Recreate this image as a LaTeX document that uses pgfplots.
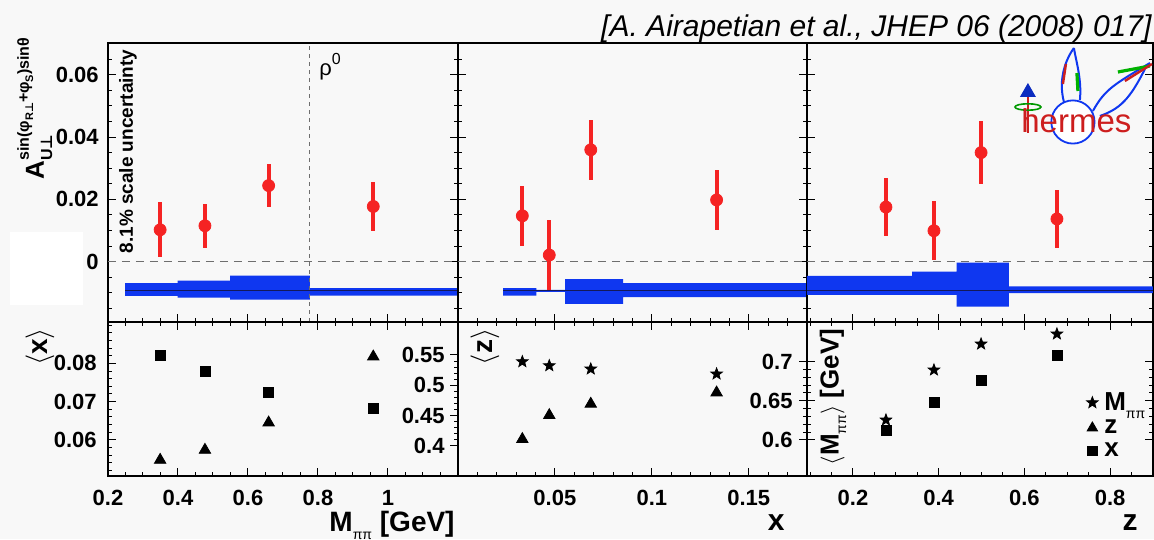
\documentclass[border=0pt]{standalone}
\usepackage{fontspec}
\setmainfont{Liberation Sans}
\newfontfamily\dejavu{DejaVu Sans}
\usepackage{pgfplots}
\pgfplotsset{compat=1.18}
\definecolor{bg}{RGB}{248,248,248}
\definecolor{pred}{RGB}{245,35,35}
\definecolor{pblue}{RGB}{15,55,240}
\definecolor{cline}{RGB}{20,25,90}
\definecolor{zgray}{RGB}{110,110,110}
\definecolor{hred}{RGB}{205,30,30}

\pgfdeclareplotmark{fstar}{%
 \pgfpathmoveto{\pgfpointpolar{90}{\pgfplotmarksize}}%
 \pgfpathlineto{\pgfpointpolar{126}{0.42\pgfplotmarksize}}%
 \pgfpathlineto{\pgfpointpolar{162}{\pgfplotmarksize}}%
 \pgfpathlineto{\pgfpointpolar{198}{0.42\pgfplotmarksize}}%
 \pgfpathlineto{\pgfpointpolar{234}{\pgfplotmarksize}}%
 \pgfpathlineto{\pgfpointpolar{270}{0.42\pgfplotmarksize}}%
 \pgfpathlineto{\pgfpointpolar{306}{\pgfplotmarksize}}%
 \pgfpathlineto{\pgfpointpolar{342}{0.42\pgfplotmarksize}}%
 \pgfpathlineto{\pgfpointpolar{18}{\pgfplotmarksize}}%
 \pgfpathlineto{\pgfpointpolar{54}{0.42\pgfplotmarksize}}%
 \pgfpathclose
 \pgfusepathqfillstroke}

\pgfplotsset{
 base/.style={scale only axis, anchor=south west,
   scaled x ticks=false, scaled y ticks=false,
   axis line style={line width=1.1pt},
   tick style={black, line width=0.5pt},
   major tick length=4pt, minor tick length=2pt, tick align=inside,
   ticklabel style={font=\bfseries\fontsize{11}{13}\selectfont}},
 toppanel/.style={base, height=139.5pt, ymin=-0.0194, ymax=0.0702,
   ytick={0,0.02,0.04,0.06}, minor ytick={-0.015,-0.01,...,0.07},
   ytick pos=both, xtick pos=left, xticklabels={}, yticklabels={}},
 botpanel/.style={base, height=77pt, xtick pos=both,
   xticklabel style={anchor=north, inner sep=0pt, yshift=-7pt}},
 pts/.style={only marks, mark=*, mark size=3pt, color=pred,
   error bars/.cd, y dir=both, y explicit, error mark=none,
   error bar style={line width=2pt, color=pred}},
 zline/.style={zgray, dash pattern=on 4pt off 3pt, line width=0.6pt},
 cl/.style={cline, line width=0.6pt},
}

\begin{document}
\begin{tikzpicture}
\begin{scope}[x=0.5pt,y=0.5pt]
\fill[bg] (0,0) rectangle (1154,539);
\useasboundingbox (0,0) rectangle (1154,539);
\fill[white] (10,234) rectangle (83,307);
\end{scope}

% ---------- top left: vs M_pipi
\begin{axis}[toppanel, at={(54pt,108.5pt)}, width=175pt,
  xmin=0.2, xmax=1.2, xtick={0.2,0.4,0.6,0.8,1}, minor xtick={0.2,0.25,...,1.2},
  yticklabels={0,0.02,0.04,0.06},
  yticklabel style={anchor=east, inner sep=0pt, xshift=-4.5pt}]
\addplot[fill=pblue, draw=none] coordinates {
 (0.249,-0.00693)(0.399,-0.00693)(0.399,-0.0061)(0.549,-0.0061)(0.549,-0.0045)
 (0.777,-0.0045)(0.777,-0.00854)(1.2,-0.00854)
 (1.2,-0.0109)(0.777,-0.0109)(0.777,-0.0122)(0.549,-0.0122)(0.549,-0.01156)
 (0.399,-0.01156)(0.399,-0.0110)(0.249,-0.0110)} -- cycle;
\addplot[cl] coordinates {(0.249,-0.0094)(1.2,-0.0094)};
\addplot[zline] coordinates {(0.2,0)(1.2,0)};
\addplot[zgray, dash pattern=on 2pt off 2pt, line width=0.5pt] coordinates {(0.777,-0.0194)(0.777,0.0702)};
\addplot[pts] table[x=x, y=y, y error=e] {
x y e
0.349 0.0102 0.0088
0.477 0.0115 0.0071
0.659 0.0244 0.0070
0.958 0.0177 0.0080
};
\end{axis}

% ---------- top middle: vs x
\begin{axis}[toppanel, at={(229pt,108.5pt)}, width=174.5pt,
  xmin=0, xmax=0.18, xtick={0.05,0.1,0.15}, minor xtick={0,0.01,...,0.18}]
\addplot[fill=pblue, draw=none] coordinates {
 (0.0233,-0.00854)(0.0404,-0.00854)(0.0404,-0.0091)(0.0553,-0.0091)(0.0553,-0.00565)
 (0.0852,-0.00565)(0.0852,-0.00693)(0.18,-0.00693)
 (0.18,-0.01143)(0.0852,-0.01143)(0.0852,-0.01358)(0.0553,-0.01358)(0.0553,-0.0097)
 (0.0404,-0.0097)(0.0404,-0.0109)(0.0233,-0.0109)} -- cycle;
\addplot[cl] coordinates {(0.0233,-0.0094)(0.18,-0.0094)};
\addplot[zline] coordinates {(0,0)(0.18,0)};
\addplot[pts] table[x=x, y=y, y error=e] {
x y e
0.0332 0.0147 0.0097
0.0471 0.0021 0.0111
0.0685 0.0359 0.0097
0.1334 0.0198 0.0095
};
\end{axis}

% ---------- top right: vs z
\begin{axis}[toppanel, at={(403.5pt,108.5pt)}, width=173pt,
  xmin=0.0926, xmax=0.9, xtick={0.2,0.4,0.6,0.8}, minor xtick={0.1,0.15,...,0.9}]
\addplot[fill=pblue, draw=none] coordinates {
 (0.0926,-0.00459)(0.338,-0.00459)(0.338,-0.0032)(0.442,-0.0032)(0.442,-0.0003)
 (0.564,-0.0003)(0.564,-0.0080)(0.9,-0.0080)
 (0.9,-0.01014)(0.564,-0.01014)(0.564,-0.01445)(0.442,-0.01445)(0.442,-0.0107)
 (0.0926,-0.0107)} -- cycle;
\addplot[cl] coordinates {(0.0926,-0.0093)(0.9,-0.0093)};
\addplot[zline] coordinates {(0.0926,0)(0.9,0)};
\addplot[pts] table[x=x, y=y, y error=e] {
x y e
0.277 0.0175 0.0094
0.389 0.0099 0.0095
0.499 0.0350 0.0100
0.676 0.0137 0.0093
};
\end{axis}

% ---------- bottom left: <x> (squares) and <z> (triangles) vs M_pipi
\begin{axis}[botpanel, at={(54pt,31.5pt)}, width=175pt,
  xmin=0.2, xmax=1.2, xtick={0.2,0.4,0.6,0.8,1}, xticklabels={0.2,0.4,0.6,0.8,1},
  minor xtick={0.2,0.25,...,1.2},
  ymin=0.0506, ymax=0.0908, ytick={0.06,0.07,0.08}, yticklabels={0.06,0.07,0.08},
  minor ytick={0.052,0.054,...,0.09}, ytick pos=left,
  yticklabel style={anchor=east, inner sep=0pt, xshift=-5.5pt}]
\addplot[only marks, mark=square*, mark size=2.5pt, black] coordinates {
 (0.349,0.0820)(0.477,0.0780)(0.659,0.0723)(0.958,0.0683)};
\end{axis}
\begin{axis}[base, at={(54pt,31.5pt)}, width=175pt, height=77pt,
  xmin=0.2, xmax=1.2, axis x line=none, axis y line*=right,
  ymin=0.3506, ymax=0.6044, ytick={0.4,0.45,0.5,0.55}, yticklabels={0.4,0.45,0.5,0.55},
  minor y tick num=4,
  yticklabel style={anchor=east, inner sep=0pt, xshift=-6.5pt}]
\addplot[only marks, mark=triangle*, mark size=3.3pt, black] coordinates {
 (0.349,0.3769)(0.477,0.3934)(0.659,0.4384)(0.958,0.5472)};
\end{axis}

% ---------- bottom middle: <M> (stars) and <z> (triangles) vs x
\begin{axis}[botpanel, at={(229pt,31.5pt)}, width=174.5pt,
  xmin=0, xmax=0.18, xtick={0.05,0.1,0.15}, xticklabels={0.05,0.1,0.15},
  minor xtick={0,0.01,...,0.18},
  ymin=0.554, ymax=0.7507, ytick={0.6,0.65,0.7}, yticklabels={0.6,0.65,0.7},
  minor y tick num=4, ytick pos=right, yticklabel pos=right,
  yticklabel style={anchor=east, inner sep=0pt, xshift=-7pt}]
\addplot[only marks, mark=fstar, mark size=3pt, black] coordinates {
 (0.0332,0.7000)(0.0471,0.6949)(0.0685,0.6907)(0.1334,0.6843)};
\addplot[only marks, mark=triangle*, mark size=3.3pt, black] coordinates {
 (0.0332,0.6009)(0.0471,0.6315)(0.0685,0.6460)(0.1334,0.6604)};
\end{axis}

% ---------- bottom right: <M> (stars) and <x> (squares) vs z
\begin{axis}[botpanel, at={(403.5pt,31.5pt)}, width=173pt,
  xmin=0.0926, xmax=0.9, xtick={0.2,0.4,0.6,0.8}, xticklabels={0.2,0.4,0.6,0.8},
  minor xtick={0.1,0.15,...,0.9},
  ymin=0.554, ymax=0.7507, ytick={0.6,0.65,0.7}, yticklabels={},
  minor y tick num=4, ytick pos=both,
  legend style={draw=none, fill=none, at={(0.79,0.58)}, anchor=north west,
    font=\bfseries\fontsize{13}{13}\selectfont, row sep=2pt, column sep=2.5pt,
    nodes={inner sep=0.6pt}},
  legend cell align=left,
  legend image code/.code={\draw[#1] plot coordinates {(0.1cm,0cm)};}]
\addplot[only marks, mark=fstar, mark size=3pt, black, forget plot] coordinates {
 (0.277,0.6255)(0.389,0.6894)(0.499,0.7226)(0.676,0.7354)};
\addplot[only marks, mark=square*, mark size=2.5pt, black, forget plot] coordinates {
 (0.277,0.6128)(0.389,0.6482)(0.499,0.6766)(0.676,0.7086)};
\addlegendimage{only marks, mark=fstar, mark size=3pt, black}
\addlegendentry{M\raisebox{-0.6ex}{\fontsize{7}{7}\selectfont\mdseries ππ}}
\addlegendimage{only marks, mark=triangle*, mark size=3pt, black}
\addlegendentry{z}
\addlegendimage{only marks, mark=square*, mark size=2.3pt, black}
\addlegendentry{x}
\end{axis}

\begin{scope}[x=0.5pt,y=0.5pt]
% ---------- texts
\node[anchor=base east, inner sep=0pt, font=\itshape\fontsize{15}{18}\selectfont] at (1152,502.5)
  {[A. Airapetian et al., JHEP 06 (2008) 017]};
\node[rotate=90, anchor=base west, inner sep=0pt] at (44,359)
  {\bfseries\fontsize{13}{13}\selectfont A\rlap{\raisebox{1.1ex}{\fontsize{8}{8}\selectfont sin(φ\raisebox{-0.5ex}{\fontsize{5.5}{5.5}\selectfont R{\dejavu ⊥}}+φ\raisebox{-0.5ex}{\fontsize{5.5}{5.5}\selectfont S})sinθ}}\raisebox{-0.6ex}{\fontsize{8}{8}\selectfont U{\dejavu ⊥}}};
\node[rotate=90, inner sep=0pt, font=\bfseries\fontsize{9.5}{10}\selectfont] at (128,387.5)
  {8.1\% scale uncertainty};
\node[anchor=base west, inner sep=0pt, font=\fontsize{11}{12}\selectfont] at (319,463)
  {ρ\raisebox{1ex}{\fontsize{8}{8}\selectfont 0}};
\node[anchor=base east, inner sep=0pt, font=\bfseries\fontsize{14}{16}\selectfont] at (455,7.5)
  {M\raisebox{-0.55ex}{\fontsize{7}{7}\selectfont\mdseries ππ} [GeV]};
\node[anchor=base east, inner sep=0pt, font=\bfseries\fontsize{15}{16}\selectfont] at (785,8.5) {x};
\node[anchor=base east, inner sep=0pt, font=\bfseries\fontsize{15}{16}\selectfont] at (1138,8.5) {z};
\node[rotate=90, inner sep=0pt, font=\bfseries\fontsize{14}{16}\selectfont] at (40,192) {$\langle$x$\rangle$};
\node[rotate=90, inner sep=0pt, font=\bfseries\fontsize{14}{16}\selectfont] at (485,192) {$\langle$z$\rangle$};
\node[rotate=90, inner sep=0pt, font=\bfseries\fontsize{13}{15}\selectfont] at (833,142)
  {$\langle$M\raisebox{-0.55ex}{\fontsize{7}{7}\selectfont\mdseries ππ}$\rangle$ [GeV]};

% ---------- hermes logo
\draw[pblue, line width=0.9pt, fill=white] (1073,417) circle[radius=10.8pt];
\draw[hred, line width=1.4pt] (1028,406) -- (1028,442);
\fill[pblue!80!black] (1020,442) -- (1036,442) -- (1028,456) -- cycle;
\draw[green!60!black, line width=0.8pt] (1028,432) ellipse [x radius=6.5pt, y radius=1.6pt];
\draw[pblue, line width=1pt] (1064,437) .. controls (1058,460) and (1066,480) .. (1074,491);
\draw[pblue, line width=1pt] (1080,439) .. controls (1082,460) and (1076,478) .. (1074,491);
\draw[green!70!black, line width=1.6pt] (1078,448) -- (1077,466);
\draw[hred, line width=1.2pt] (1063,455) -- (1066,475);
\draw[pblue, line width=1pt] (1093,428) .. controls (1105,450) and (1115,455) .. (1150,476);
\draw[pblue, line width=1pt] (1100,423) .. controls (1120,430) and (1130,440) .. (1145,470);
\draw[green!70!black, line width=1.6pt] (1118,467) -- (1150,473);
\draw[hred, line width=1.2pt] (1125,458) -- (1152,475);
\node[anchor=base west, inner sep=0pt, text=hred, font=\fontsize{16.5}{18}\selectfont] at (1021,406) {hermes};
\end{scope}
\end{tikzpicture}
\end{document}
